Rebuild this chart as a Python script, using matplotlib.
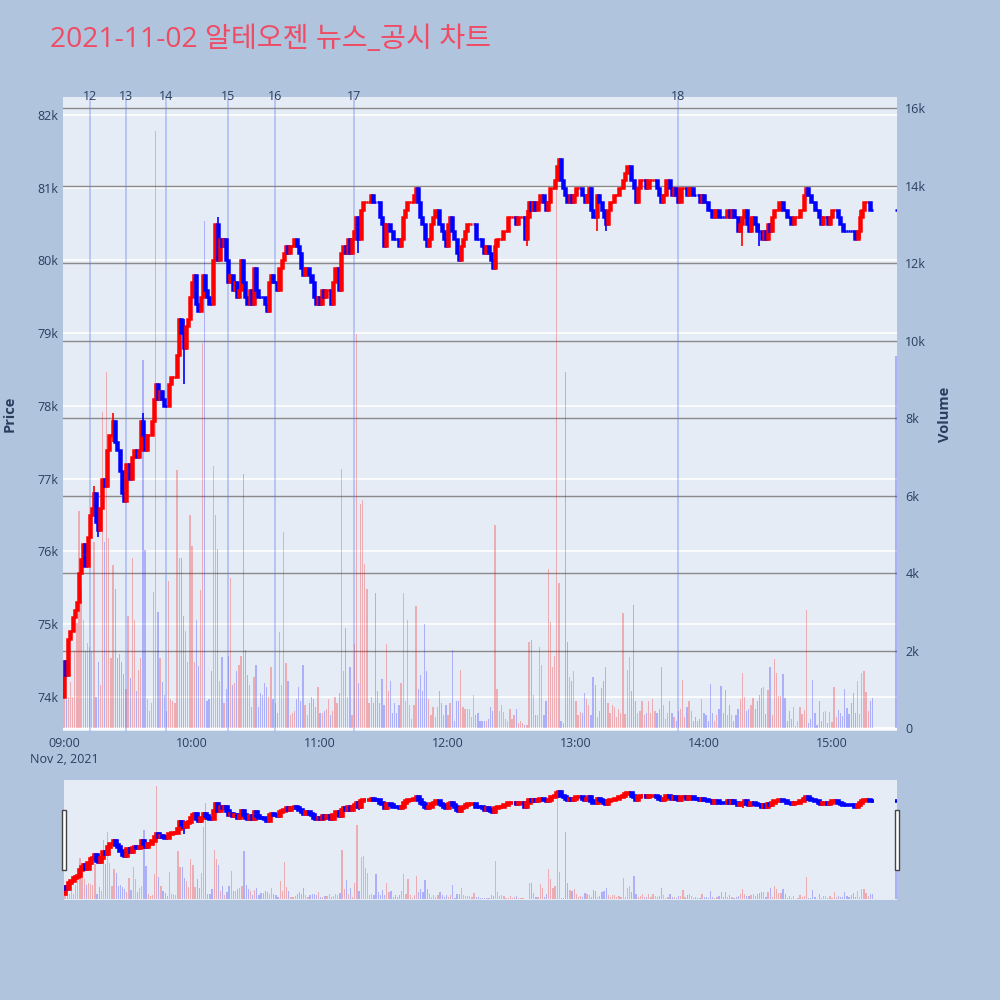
import numpy as np
import matplotlib
matplotlib.use("Agg")
import matplotlib.pyplot as plt
import matplotlib.transforms as mtransforms
from matplotlib.patches import Rectangle

# ---------------- data ----------------
title = "2021-11-02 알테오젠 뉴스_공시 차트"
first_open = 74000
# close price per minute from 09:00 (in units of 100 KRW)
closes_100 = [
    745, 743, 748, 749, 751, 752, 753, 757, 759, 761,
    758, 762, 765, 766, 768, 764, 763, 766, 770, 769,
    774, 776, 776, 778, 775, 774, 771, 768, 767, 772,
    772, 770, 773, 774, 773, 774, 778, 776, 774, 776,
    776, 778, 781, 783, 781, 782, 781, 780, 780, 783,
    784, 784, 784, 787, 792, 790, 788, 791, 792, 795,
    797, 798, 794, 793, 795, 798, 796, 795, 794, 794,
    800, 805, 800, 803, 802, 803, 800, 797, 798, 796,
    797, 795, 796, 800, 797, 795, 794, 796, 794, 799,
    796, 795, 795, 795, 794, 793, 797, 798, 797, 797,
    796, 799, 800, 801, 802, 801, 802, 802, 803, 802,
    801, 799, 798, 799, 799, 798, 797, 795, 794, 795,
    794, 796, 795, 796, 796, 794, 797, 799, 799, 796,
    801, 802, 801, 803, 801, 803, 804, 806, 803, 807,
    808, 808, 808, 808, 809, 808, 808, 808, 806, 805,
    802, 805, 805, 804, 803, 803, 803, 802, 803, 806,
    807, 808, 808, 808, 809, 810, 808, 806, 805, 803,
    802, 803, 805, 806, 807, 807, 805, 804, 803, 802,
    805, 806, 804, 803, 801, 800, 802, 803, 804, 805,
    805, 805, 805, 803, 803, 803, 802, 801, 802, 801,
    800, 799, 802, 803, 803, 803, 804, 804, 806, 806,
    806, 806, 805, 806, 806, 806, 803, 806, 808, 807,
    808, 807, 808, 809, 809, 808, 807, 808, 810, 810,
    811, 813, 814, 811, 810, 809, 808, 809, 808, 809,
    810, 810, 810, 809, 808, 809, 810, 807, 806, 806,
    809, 808, 807, 806, 805, 807, 808, 808, 809, 809,
    810, 810, 811, 812, 813, 813, 811, 810, 808, 810,
    811, 811, 811, 810, 811, 811, 811, 811, 810, 809,
    808, 809, 811, 811, 810, 809, 810, 809, 808, 810,
    810, 810, 809, 810, 810, 809, 809, 809, 808, 809,
    808, 808, 807, 807, 806, 807, 807, 806, 806, 806,
    806, 807, 806, 807, 806, 806, 804, 805, 806, 807,
    805, 804, 806, 806, 805, 804, 804, 803, 804, 803,
    805, 804, 806, 807, 807, 808, 808, 807, 807, 806,
    806, 805, 806, 806, 806, 807, 807, 809, 810, 809,
    808, 808, 807, 807, 806, 805, 806, 806, 805, 806,
    807, 807, 807, 806, 805, 804, 804, 804, 804, 804,
    804, 803, 804, 806, 807, 808, 808, 808, 807, 807,
]
# traded volume per minute from 09:00
volumes = [
    1700, 750, 800, 1200, 800, 2000, 2700, 5600, 3600, 2800,
    2000, 2200, 2100, 2000, 4800, 800, 1700, 1100, 8150, 4800,
    9200, 4900, 1800, 4200, 3600, 1800, 1900, 1700, 1400, 1000,
    2900, 1300, 4400, 2800, 950, 1500, 1800, 9500, 4600, 750,
    450, 650, 3500, 15400, 3000, 1800, 1200, 850, 450, 3800,
    750, 700, 650, 6650, 4400, 4400, 2900, 2500, 1700, 5500,
    4700, 1700, 2800, 1600, 3550, 9930, 13090, 700, 750, 1460,
    6770, 5500, 4630, 1210, 1820, 650, 1000, 1870, 3860, 1110,
    1160, 1460, 1620, 1870, 6560, 2020, 1360, 1110, 550, 1310,
    1620, 550, 900, 850, 1160, 1060, 800, 1570, 750, 650,
    400, 2480, 1110, 5050, 1670, 1210, 340, 390, 440, 750,
    1060, 700, 1620, 600, 340, 650, 800, 750, 550, 1060,
    390, 390, 440, 500, 750, 340, 440, 800, 650, 900,
    6690, 1460, 2590, 800, 1570, 340, 2180, 10160, 1160, 5780,
    5880, 4220, 3600, 650, 800, 650, 3480, 950, 650, 1260,
    600, 2180, 950, 1210, 390, 650, 390, 600, 1160, 3480,
    700, 2790, 600, 240, 600, 3150, 1000, 1360, 950, 2690,
    1460, 750, 340, 550, 290, 550, 950, 650, 340, 600,
    340, 650, 2020, 190, 700, 700, 1510, 550, 500, 500,
    500, 290, 850, 340, 390, 190, 190, 190, 190, 240,
    550, 440, 5240, 1000, 440, 600, 420, 240, 190, 500,
    240, 340, 500, 140, 190, 140, 90, 90, 2230, 2280,
    850, 340, 340, 2100, 1620, 340, 700, 4100, 2740, 1570,
    1870, 14200, 3730, 190, 140, 9200, 2230, 1310, 1210, 1460,
    700, 340, 420, 390, 900, 750, 600, 340, 1310, 1110,
    290, 440, 1020, 1210, 1570, 650, 390, 600, 550, 290,
    500, 390, 2970, 360, 1510, 1820, 950, 3180, 700, 390,
    440, 700, 340, 390, 700, 390, 750, 440, 390, 500,
    1570, 600, 240, 390, 700, 390, 290, 190, 440, 500,
    1240, 290, 550, 700, 440, 190, 290, 190, 240, 750,
    390, 340, 190, 1130, 390, 190, 340, 500, 1080, 390,
    970, 340, 600, 340, 190, 340, 500, 750, 1410, 800,
    440, 500, 600, 780, 500, 700, 850, 1040, 1060, 360,
    970, 1570, 340, 1790, 1410, 830, 830, 1390, 780, 190,
    440, 240, 530, 60, 190, 550, 360, 460, 3050, 140,
    240, 1230, 390, 90, 700, 190, 420, 440, 140, 420,
    160, 1060, 290, 460, 390, 310, 1000, 520, 360, 650,
    900, 390, 1210, 360, 1410, 1460, 920, 440, 700, 780,
]
# closing auction (15:30)
auction_minute = 390
auction_price = 80700
auction_volume = 9600

# visible wick extremes (minute, low, high)
wick_minutes = [14, 16, 23, 37, 56, 72, 138, 202, 217, 233, 250, 254, 318, 326, 373]
wick_lows = [76700, 76200, 77500, 77500, 78300, 80000, 80100, 79900, 80200, 81100, 80400, 80400, 80200, 80200, 80300]
wick_highs = [76900, 76600, 77900, 77900, 79200, 80600, 80600, 80300, 80700, 81400, 80900, 80700, 80600, 80500, 80700]

news_labels = ["12", "13", "14", "15", "16", "17", "18"]
news_minutes = [12, 29, 48, 77, 99, 136, 288]

hour_labels = ["09:00\nNov 2, 2021", "10:00", "11:00", "12:00", "13:00", "14:00", "15:00"]
hour_minutes = [0, 60, 120, 180, 240, 300, 360]
price_ticks = [74000, 75000, 76000, 77000, 78000, 79000, 80000, 81000, 82000]
volume_ticks = [0, 2000, 4000, 6000, 8000, 10000, 12000, 14000, 16000]

# ---------------- build OHLC ----------------
minutes = np.array(list(range(len(closes_100))) + [auction_minute], dtype=float)
closes = np.array([c * 100 for c in closes_100] + [auction_price], dtype=float)
opens = np.concatenate([[first_open], closes[:-1]])
highs = np.maximum(opens, closes)
lows = np.minimum(opens, closes)
for m, lo, hi in zip(wick_minutes, wick_lows, wick_highs):
    highs[m] = max(highs[m], hi)
    lows[m] = min(lows[m], lo)
vols = np.array(volumes + [auction_volume], dtype=float)

RED = "#FF0000"
BLUE = "#0000FF"
inc = []
prev = True
for o, c in zip(opens, closes):
    if c > o:
        prev = True
    elif c < o:
        prev = False
    inc.append(prev)
inc = np.array(inc)
ccol = np.where(inc, RED, BLUE)
vcol = [(1, 0, 0, 0.27) if i else (0, 0, 1, 0.25) for i in inc]

TXT = "#2a3f5f"
BG = "#B0C4DE"
PBG = "#E5ECF6"
FONT = ["Open Sans", "Noto Sans CJK KR", "DejaVu Sans"]
plt.rcParams["font.family"] = FONT

fig = plt.figure(figsize=(10, 10), dpi=100, facecolor=BG)

XLIM = (-0.5, 390.5)
PLIM = (73532, 82247)
VLIM = (-77, 16284)


def draw_panel(ax, axv, body_w, vol_w, lw, grid):
    axv.set_zorder(1)
    ax.set_zorder(2)
    ax.patch.set_visible(False)
    axv.patch.set_visible(True)
    axv.set_facecolor(PBG)
    ax.set_xlim(*XLIM)
    ax.set_ylim(*PLIM)
    axv.set_ylim(*VLIM)
    for a in (ax, axv):
        for s in a.spines.values():
            s.set_visible(False)
    if grid:
        tr = mtransforms.blended_transform_factory(axv.transAxes, ax.transData)
        for p in price_ticks:
            axv.plot([0, 1], [p, p], color="white", lw=1.2, transform=tr, zorder=0.5)
        for v in volume_ticks[1:]:
            axv.axhline(v, color="#8a8a8a", lw=1.0, zorder=0.6)
        axv.axhline(0, color="white", lw=2, zorder=0.7)
    axv.bar(minutes, vols, width=vol_w, color=vcol, linewidth=0, zorder=1)
    ax.vlines(minutes, lows, highs, colors=ccol, lw=1.2, zorder=3)
    ax.bar(minutes, np.abs(closes - opens), bottom=np.minimum(opens, closes),
           width=body_w, color=ccol, edgecolor=ccol, linewidth=lw, zorder=4)


# ---------------- main chart ----------------
ax = fig.add_axes([0.063, 0.269, 0.834, 0.634])
axv = ax.twinx()
draw_panel(ax, axv, 0.95, 0.6, 1.8, True)

ax.set_yticks(price_ticks)
ax.set_yticklabels([f"{p // 1000}k" for p in price_ticks])
axv.set_yticks(volume_ticks)
axv.set_yticklabels(["0" if v == 0 else f"{v // 1000}k" for v in volume_ticks])
ax.set_xticks(hour_minutes)
xl = ax.set_xticklabels(hour_labels)
xl[0].set_linespacing(1.35)
ax.tick_params(axis="x", length=0, pad=4, labelsize=9, labelcolor=TXT)
ax.tick_params(axis="y", length=0, pad=3, labelsize=9, labelcolor=TXT)
axv.tick_params(axis="y", length=0, pad=6, labelsize=9, labelcolor=TXT)

tr_top = mtransforms.blended_transform_factory(ax.transData, ax.transAxes)
for lab, m in zip(news_labels, news_minutes):
    ax.axvline(m, color=(0.36, 0.47, 0.93, 0.4), lw=1.2, zorder=2)
    ax.text(m, 1.0, lab, transform=tr_top, ha="center", va="center",
            fontsize=9, color=TXT, zorder=6)

fig.text(0.010, 0.586, "Price", rotation=90, ha="center", va="center",
         fontsize=10.5, fontweight="bold", color=TXT)
fig.text(0.945, 0.586, "Volume", rotation=90, ha="center", va="center",
         fontsize=10.5, fontweight="bold", color=TXT)
fig.text(0.050, 0.960, title, ha="left", va="center", fontsize=20.3,
         color="#EF4B64", family=FONT)

# ---------------- range slider ----------------
rs = fig.add_axes([0.064, 0.100, 0.833, 0.120])
rsv = rs.twinx()
draw_panel(rs, rsv, 0.95, 0.6, 2.6, False)
for a in (rs, rsv):
    a.set_xticks([])
    a.set_yticks([])

for x0 in (0.0615, 0.8945):
    fig.patches.append(Rectangle((x0, 0.130), 0.0045, 0.060, transform=fig.transFigure,
                                 facecolor="white", edgecolor="#444444", lw=1, zorder=10))

fig.savefig("out.png", dpi=100, facecolor=BG)
